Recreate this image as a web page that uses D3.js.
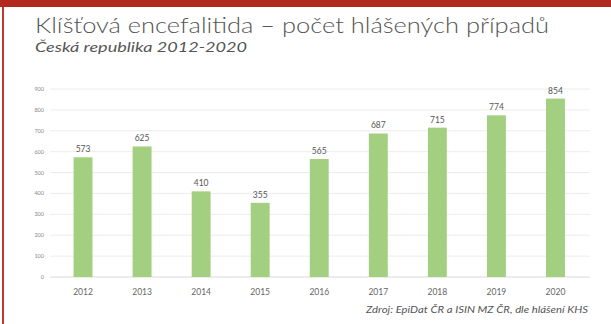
<!DOCTYPE html>
<html>
<head>
<meta charset="utf-8">
<script src="https://cdn.jsdelivr.net/npm/d3@7"></script>
<style>
  body { margin: 0; background: #fff; }
  svg { display: block; font-family: Lato, "Open Sans", sans-serif; }
</style>
</head>
<body>
<svg id="chart" width="611" height="324"></svg>
<script>
const years = ["2012", "2013", "2014", "2015", "2016", "2017", "2018", "2019", "2020"]
const cases = [573, 625, 410, 355, 565, 687, 715, 774, 854]
const yTicks = [0, 100, 200, 300, 400, 500, 600, 700, 800, 900]

const title = "Klíšťová encefalitida – počet hlášených případů"
const subtitle = "Česká republika 2012-2020"
const source = "Zdroj: EpiDat ČR a ISIN MZ ČR, dle hlášení KHS"

var svg = d3.select("#chart")

// frame: red band on top, thin red line on the left
svg.append("rect").attr("x", 0).attr("y", 0).attr("width", 611).attr("height", 7).attr("fill", "#b02a20")
svg.append("rect").attr("x", 2).attr("y", 7).attr("width", 2).attr("height", 317).attr("fill", "#c0392b")

// the reference is stretched sideways, so the texts get a fixed length
svg.append("text")
  .attr("x", 35).attr("y", 33)
  .attr("font-size", 22).attr("font-weight", 300).attr("fill", "#555")
  .attr("textLength", 514).attr("lengthAdjust", "spacingAndGlyphs")
  .text(title)

svg.append("text")
  .attr("x", 35).attr("y", 52)
  .attr("font-size", 14).attr("font-style", "italic").attr("fill", "#555")
  .attr("textLength", 212).attr("lengthAdjust", "spacingAndGlyphs")
  .text(subtitle)

let x = d3.scaleBand()
  .domain(years)
  .range([53.5, 585])
  .paddingInner(0.68)
  .paddingOuter(0.34)

let y = d3.scaleLinear()
  .domain([0, 900])
  .range([277, 89])

// gridlines
svg.append("g")
  .selectAll("line")
  .data(yTicks)
  .enter()
  .append("line")
  .attr("x1", 50).attr("x2", 590)
  .attr("y1", d => y(d)).attr("y2", d => y(d))
  .attr("stroke", d => d === 0 ? "#d9d9d9" : "#ececec")
  .attr("stroke-width", 1)

// y labels
svg.append("g")
  .selectAll("text")
  .data(yTicks)
  .enter()
  .append("text")
  .attr("x", 44).attr("y", d => y(d) + 2)
  .attr("text-anchor", "end")
  .attr("font-size", 5.5).attr("fill", "#888")
  .text(d => d)

// bars
svg.append("g")
  .selectAll("rect")
  .data(cases)
  .enter()
  .append("rect")
  .attr("x", (d, i) => x(years[i]))
  .attr("width", x.bandwidth())
  .attr("y", d => y(d))
  .attr("height", d => y(0) - y(d))
  .attr("fill", "#a2cf80")

// value labels
svg.append("g")
  .selectAll("text")
  .data(cases)
  .enter()
  .append("text")
  .attr("x", (d, i) => x(years[i]) + x.bandwidth() / 2)
  .attr("y", d => y(d) - 5)
  .attr("text-anchor", "middle")
  .attr("font-size", 8.5).attr("fill", "#555")
  .text(d => d)

// year labels
svg.append("g")
  .selectAll("text")
  .data(years)
  .enter()
  .append("text")
  .attr("x", d => x(d) + x.bandwidth() / 2)
  .attr("y", 295)
  .attr("text-anchor", "middle")
  .attr("font-size", 8.5).attr("fill", "#666")
  .text(d => d)

svg.append("text")
  .attr("x", 588).attr("y", 313)
  .attr("text-anchor", "end")
  .attr("font-size", 9).attr("font-style", "italic").attr("fill", "#555")
  .attr("textLength", 222).attr("lengthAdjust", "spacingAndGlyphs")
  .text(source)
</script>
</body>
</html>
